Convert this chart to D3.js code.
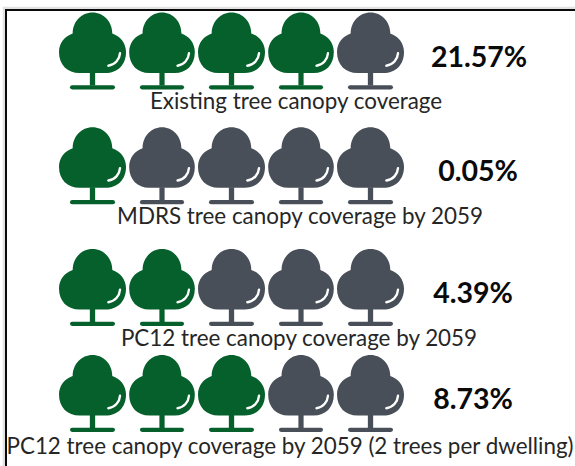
<!DOCTYPE html>
<html>
<head>
<meta charset="utf-8">
<script src="https://cdn.jsdelivr.net/npm/d3@7"></script>
<style>
  html, body { margin: 0; padding: 0; background: #fff; }
  svg { display: block; }
  text { font-family: Lato, "Open Sans", sans-serif; }
</style>
</head>
<body>
<svg id="chart" width="575" height="466"></svg>
<script>
// Data
const categories = [
  "Existing tree canopy coverage",
  "MDRS tree canopy coverage by 2059",
  "PC12 tree canopy coverage by 2059",
  "PC12 tree canopy coverage by 2059 (2 trees per dwelling)"
];
const coverageValues = [21.57, 0.05, 4.39, 8.73];
const filledTrees = [4, 1, 2, 3];
const treesPerRow = 5;

// Layout
const rowTops = [12.5, 127.3, 249, 355];
const captionBaselines = [108.5, 224, 345.5, 453.5];
const captionCentres = [296, 300, 299, 290];
const valueBaselines = [66.5, 181, 303, 409];
const valueCentres = [479, 478, 473, 473];

const svg = d3.select("#chart");

// Outer frame: a pale edge behind a black rule along the top and left
svg.append("path").attr("d", "M4 466V8H575").attr("fill", "none")
  .attr("stroke", "#e2e2e2").attr("stroke-width", 2.5);
svg.append("path").attr("d", "M6 466V10H575").attr("fill", "none")
  .attr("stroke", "#0a0a0a").attr("stroke-width", 2);

const x = d3.scalePoint().domain(d3.range(treesPerRow)).range([92.5, 370.5]);
const fill = d3.scaleOrdinal().domain(["on", "off"]).range(["#05602b", "#484f58"]);

// Tree glyph, origin at the top centre of the crown, 67 wide and 77 tall
const crown = "M-19.8 21C-19.8 9 -11 0 0 0C11 0 19.8 9 19.8 21" +
  "C27.5 23.5 33.5 30.5 33.5 39.5C33.5 52.5 25 60.5 13 60.5L-13 60.5" +
  "C-25 60.5 -33.5 52.5 -33.5 39.5C-33.5 30.5 -27.5 23.5 -19.8 21Z";
const glint = "M27.5 40.8C27 47 22.5 52.5 15.8 53.2";

const rows = svg.selectAll("g.row")
  .data(categories.map((label, i) => ({
    label, value: coverageValues[i], filled: filledTrees[i], i
  })))
  .join("g").attr("class", "row");

rows.each(function (row) {
  const g = d3.select(this);
  const trees = g.selectAll("g.tree")
    .data(d3.range(treesPerRow))
    .join("g").attr("class", "tree")
    .attr("transform", k =>
      `translate(${x(k)},${rowTops[row.i]}) scale(${k % 2 ? 0.98 : 1},1)`)
    .attr("fill", k => fill(k < row.filled ? "on" : "off"));
  trees.append("path").attr("d", crown);
  trees.append("rect").attr("x", -2.65).attr("y", 60).attr("width", 5.3).attr("height", 13);
  trees.append("rect").attr("x", -22.5).attr("y", 72.7).attr("width", 45).attr("height", 4.3).attr("rx", 2.15);
  trees.append("path").attr("d", glint).attr("fill", "none")
    .attr("stroke", "#fff").attr("stroke-width", 2.4).attr("stroke-linecap", "round");

  g.append("text")
    .attr("x", captionCentres[row.i]).attr("y", captionBaselines[row.i])
    .attr("text-anchor", "middle").attr("font-size", 22.4).attr("fill", "#262626")
    .text(row.label);

  g.append("text")
    .attr("x", valueCentres[row.i]).attr("y", valueBaselines[row.i])
    .attr("text-anchor", "middle").attr("font-size", 28.5).attr("font-weight", 700)
    .attr("fill", "#0a0a0a")
    .text(d3.format(".2f")(row.value) + "%");
});
</script>
</body>
</html>
